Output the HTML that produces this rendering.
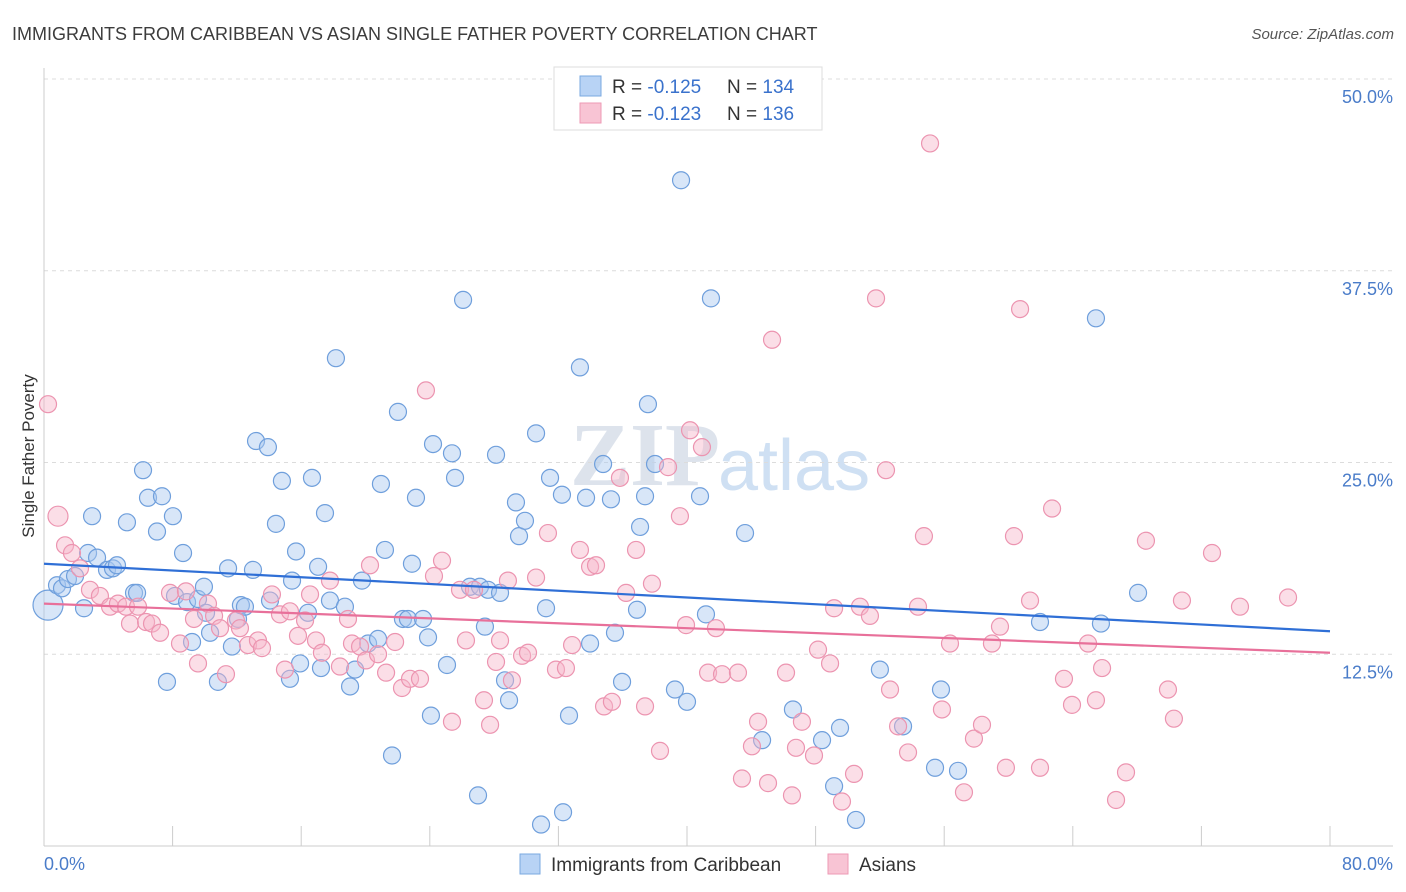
<!DOCTYPE html>
<html><head><meta charset="utf-8"><style>
body{margin:0;background:#fff;font-family:"Liberation Sans",sans-serif;}
svg{display:block}
</style></head><body>
<svg id="chart" width="1406" height="892" xmlns="http://www.w3.org/2000/svg">
<text x="12" y="40" font-size="18" fill="#3c3c3c">IMMIGRANTS FROM CARIBBEAN VS ASIAN SINGLE FATHER POVERTY CORRELATION CHART</text>
<text x="1394" y="39" font-size="15" fill="#555" font-style="italic" text-anchor="end">Source: ZipAtlas.com</text>
<text x="720" y="485" font-size="90" fill="#dde3ec" text-anchor="end" font-family="Liberation Serif" font-weight="bold">ZIP</text>
<text x="718" y="490" font-size="72" fill="#cfe0f3">atlas</text>
<g id="grid"></g>
<g id="axes"></g>
<g id="pts"></g>
<g id="trend"></g>
<text transform="translate(34,456) rotate(-90)" font-size="17" fill="#333" text-anchor="middle">Single Father Poverty</text>
<text x="44" y="870" font-size="18" fill="#4a7cc9">0.0%</text>
<text x="1393" y="870" font-size="18" fill="#4a7cc9" text-anchor="end">80.0%</text>
<g>
<rect x="554" y="67" width="268" height="63" fill="#fff" stroke="#ddd"/>
<rect x="580" y="76" width="21" height="20" fill="#b8d3f5" stroke="#7aa8e0"/>
<rect x="580" y="103" width="21" height="20" fill="#f8c4d4" stroke="#ee9ab5"/>
<text x="612" y="93" font-size="19" fill="#333">R = <tspan fill="#3a72cc">-0.125</tspan></text>
<text x="727" y="93" font-size="19" fill="#333">N = <tspan fill="#3a72cc">134</tspan></text>
<text x="612" y="120" font-size="19" fill="#333">R = <tspan fill="#3a72cc">-0.123</tspan></text>
<text x="727" y="120" font-size="19" fill="#333">N = <tspan fill="#3a72cc">136</tspan></text>
</g>
<g>
<rect x="520" y="854" width="20" height="20" fill="#b8d3f5" stroke="#7aa8e0"/>
<text x="551" y="871" font-size="19" fill="#333">Immigrants from Caribbean</text>
<rect x="828" y="854" width="20" height="20" fill="#f8c4d4" stroke="#ee9ab5"/>
<text x="859" y="871" font-size="19" fill="#333">Asians</text>
</g>
</svg>
<script>
const yTicks=[12.5,25.0,37.5,50.0];
const yTickLabels=["12.5%","25.0%","37.5%","50.0%"];
const xTicks=[0,8,16,24,32,40,48,56,64,72,80];
const blueX=[0.25,0.81,1.12,1.49,1.93,2.49,2.74,2.99,3.30,3.92,4.29,4.54,5.16,5.60,5.79,6.16,6.47,7.03,7.34,8.02,7.65,8.15,8.65,8.90,9.21,9.58,9.95,10.08,10.33,10.82,11.45,11.69,12.07,12.25,12.50,13.0,13.19,13.93,14.06,14.43,14.8,15.3,15.43,15.68,15.93,16.42,16.67,17.05,17.23,17.48,17.79,18.16,18.72,19.04,19.35,19.78,20.16,20.78,20.96,21.21,21.65,22.02,22.33,22.64,22.89,23.14,23.58,23.89,24.07,24.2,25.07,25.38,25.57,26.07,26.5,27.0,27.12,27.43,27.62,28.12,28.37,28.68,28.93,29.36,29.55,29.92,30.61,31.23,30.92,31.48,32.22,32.29,32.66,33.34,33.72,33.97,34.78,35.27,35.52,35.96,36.89,37.08,37.39,37.57,38.01,39.25,39.63,40.0,40.81,41.18,41.49,43.61,44.67,46.59,48.4,49.15,49.52,50.51,52.0,53.44,55.43,55.80,56.86,61.96,65.44,65.75,68.06];
const blueY=[15.7,17.0,16.8,17.4,17.6,15.5,19.1,21.5,18.8,18.0,18.1,18.3,21.1,16.5,16.5,24.5,22.7,20.5,22.8,21.5,10.7,16.3,19.1,15.9,13.3,16.1,16.9,15.2,13.9,10.7,18.1,13.0,14.8,15.7,15.6,18.0,26.4,26.0,16.0,21.0,23.8,10.9,17.3,19.2,11.9,15.2,24.0,18.2,11.6,21.7,16.0,31.8,15.6,10.4,11.5,17.3,13.2,13.5,23.6,19.3,5.9,28.3,14.8,14.8,18.4,22.7,14.8,13.6,8.5,26.2,11.8,25.6,24.0,35.6,16.9,3.3,16.9,14.3,16.7,25.5,16.5,10.8,9.5,22.4,20.2,21.2,26.9,15.5,1.4,24.0,22.9,2.2,8.5,31.2,22.7,13.2,24.9,22.6,13.9,10.7,15.4,20.8,22.8,28.8,24.9,10.2,43.4,9.4,22.8,15.1,35.7,20.4,6.9,8.9,6.9,3.9,7.7,1.7,11.5,7.8,5.1,10.2,4.9,14.6,34.4,14.5,16.5];
const pinkX=[0.25,0.87,1.31,1.74,2.24,2.86,3.48,4.11,4.60,5.10,5.35,5.85,6.35,6.72,7.22,7.84,8.46,8.83,9.33,9.58,10.2,10.58,10.95,11.32,11.94,12.19,12.69,13.31,13.56,14.18,14.68,14.99,15.3,15.8,16.24,16.55,16.92,17.29,17.79,18.41,18.91,19.16,19.66,20.03,20.28,20.78,21.28,21.84,22.27,22.77,23.39,23.76,24.26,24.76,25.38,25.88,26.25,26.75,27.37,27.75,28.12,28.37,28.86,29.11,29.74,30.11,30.61,31.35,31.85,32.47,32.85,33.34,33.97,34.34,34.84,35.33,35.83,36.21,36.83,37.39,37.82,38.32,38.82,39.56,39.94,40.19,40.93,41.31,41.8,42.18,43.17,43.42,44.04,44.42,45.04,45.29,46.16,46.53,46.78,47.15,47.9,48.15,48.9,49.15,49.64,50.39,50.76,51.38,51.76,52.38,52.63,53.13,53.75,54.37,54.74,55.12,55.86,56.36,57.23,57.85,58.35,58.97,59.47,59.84,60.34,60.72,61.34,61.96,62.71,63.45,63.95,64.95,65.44,65.82,67.31,66.69,68.55,69.92,70.29,70.79,72.66,74.4,77.39];
const pinkY=[28.8,21.5,19.6,19.1,18.1,16.7,16.3,15.6,15.8,15.6,14.5,15.6,14.6,14.5,13.9,16.5,13.2,16.6,14.8,11.9,15.8,15.0,14.2,11.2,14.7,14.2,13.1,13.4,12.9,16.4,15.1,11.5,15.3,13.7,14.7,16.4,13.4,12.6,17.3,11.7,14.8,13.2,13.0,12.1,18.3,12.5,11.3,13.3,10.3,10.9,10.9,29.7,17.6,18.6,8.1,16.7,13.4,16.7,9.5,7.9,12.0,13.4,17.3,10.8,12.4,12.6,17.5,20.4,11.5,11.6,13.1,19.3,18.2,18.3,9.1,9.4,24.0,16.5,19.3,9.1,17.1,6.2,24.7,21.5,14.4,27.1,26.0,11.3,14.2,11.2,11.3,4.4,6.5,8.1,4.1,33.0,11.3,3.3,6.4,8.1,5.9,12.8,11.9,15.5,2.9,4.7,15.6,15.0,35.7,24.5,10.2,7.8,6.1,15.6,20.2,45.8,8.9,13.2,3.5,7.0,7.9,13.2,14.3,5.1,20.2,35.0,16.0,5.1,22.0,10.9,9.2,13.2,9.5,11.6,4.8,3.0,19.9,10.2,8.3,16.0,19.1,15.6,16.2];
const blueTrend=[18.4,14.0];
const pinkTrend=[15.8,12.6];
const NS="http://www.w3.org/2000/svg";
const X0=44,X1=1330,Y0=846,YT=79;
function sx(v){return X0+(X1-X0)*v/80;}
function sy(v){return Y0-(Y0-YT)*v/50;}
function mk(tag,attrs,parent){const e=document.createElementNS(NS,tag);for(const k in attrs)e.setAttribute(k,attrs[k]);parent.appendChild(e);return e;}
const grid=document.getElementById('grid'),axes=document.getElementById('axes'),pts=document.getElementById('pts'),tr=document.getElementById('trend');
yTicks.forEach((t,i)=>{
 const l=mk('line',{x1:X0,x2:1393,y1:sy(t),y2:sy(t),stroke:'#dcdcdc','stroke-dasharray':'4,4'},grid);
 
 
 const tx=mk('text',{x:1393,y:sy(t)+24,'font-size':18,fill:'#4a7cc9','text-anchor':'end'},grid);
 tx.textContent=yTickLabels[i];
 
 
});
const ax=mk('line',{x1:X0,x2:X0,y1:68,y2:Y0,stroke:'#ccc'},axes);


const bx=mk('line',{x1:X0,x2:1393,y1:Y0,y2:Y0,stroke:'#ccc'},axes);


xTicks.forEach(t=>{
 const l=mk('line',{x1:sx(t),x2:sx(t),y1:826,y2:Y0,stroke:'#ccc'},axes);
 
 
});
function drawPts(xs,ys,fill,stroke,name){
 xs.forEach((v,i)=>{
  const r=(i===0&&name==='caribbean-point')?15:8.5;
  const c=mk('circle',{cx:sx(v),cy:sy(ys[i]),r:(name==='asian-point'&&i===1)?10:r,fill:fill,'fill-opacity':0.45,stroke:stroke,'stroke-width':1.2},pts);
  
  
 });
}
drawPts(blueX,blueY,'#a9c7f0','#6f9fdc','caribbean-point');
drawPts(pinkX,pinkY,'#f6b6ca','#ec94b0','asian-point');
const bl=mk('line',{x1:sx(0),x2:sx(80),y1:sy(blueTrend[0]),y2:sy(blueTrend[1]),stroke:'#2f6fd6','stroke-width':2.2},tr);


const pl=mk('line',{x1:sx(0),x2:sx(80),y1:sy(pinkTrend[0]),y2:sy(pinkTrend[1]),stroke:'#e8709a','stroke-width':2.2},tr);


</script>
</body></html>
